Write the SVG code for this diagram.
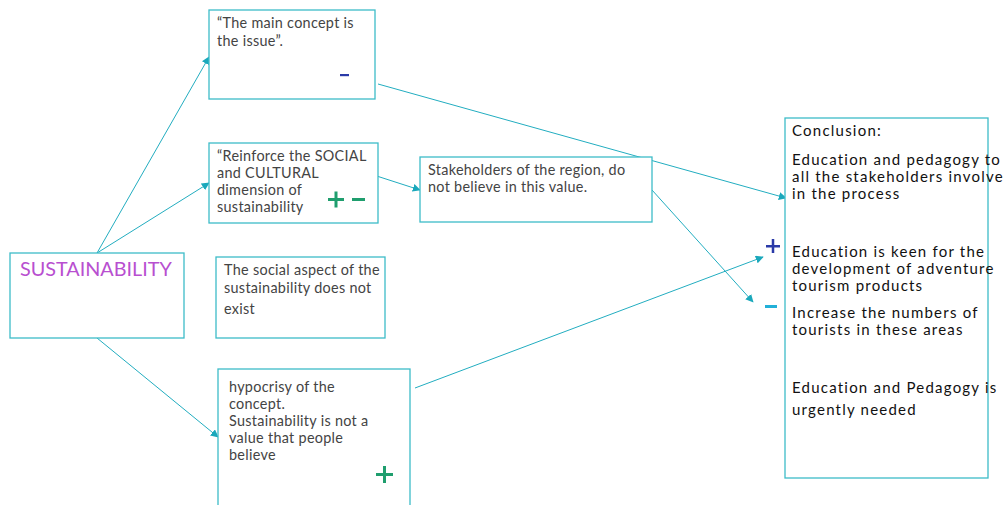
<svg xmlns="http://www.w3.org/2000/svg" width="1007" height="505" viewBox="0 0 1007 505">
  <defs>
    <style>
      .box { fill: #ffffff; stroke: #3dbcc8; stroke-width: 1.3; }
      .link { fill: none; stroke: #22adc0; stroke-width: 1; }
      .note { font-family: Lato, "Noto Sans", sans-serif; font-size: 14.4px; fill: #444444; letter-spacing: 0.3px; }
      .concl { font-family: Lato, "Noto Sans", sans-serif; font-size: 15px; fill: #111111; letter-spacing: 1.22px; }
      .title { font-family: Lato, "Noto Sans", sans-serif; font-size: 19.8px; fill: #b84fd0; }
    </style>
    <marker id="head" viewBox="0 0 10 10" refX="9" refY="5" markerWidth="8" markerHeight="8" orient="auto" markerUnits="userSpaceOnUse">
      <path d="M0,0 L10,5 L0,10 z" fill="#1aa8bb"/>
    </marker>
  </defs>

  <!-- connectors -->
  <g id="connectors">
    <line class="link" x1="97" y1="253" x2="209" y2="57" marker-end="url(#head)"/>
    <line class="link" x1="97" y1="253" x2="209" y2="183" marker-end="url(#head)"/>
    <line class="link" x1="97" y1="338" x2="218" y2="437" marker-end="url(#head)"/>
    <line class="link" x1="378" y1="84" x2="786" y2="198" marker-end="url(#head)"/>
    <line class="link" x1="355" y1="169" x2="420" y2="190" marker-end="url(#head)"/>
    <line class="link" x1="652" y1="190" x2="753" y2="302" marker-end="url(#head)"/>
    <line class="link" x1="415" y1="388" x2="763" y2="257" marker-end="url(#head)"/>
  </g>

  <!-- central concept -->
  <g id="sustainability">
    <rect class="box" x="10" y="253" width="174" height="85"/>
    <text class="title" x="20" y="276">SUSTAINABILITY</text>
  </g>

  <g id="main-concept">
    <rect class="box" x="209" y="10" width="166" height="89"/>
    <text class="note" x="217" y="28">“The main concept is</text>
    <text class="note" x="217" y="46">the issue”.</text>
    <rect x="340" y="74" width="9" height="2.2" fill="#2a3aa8"/>
  </g>

  <g id="reinforce">
    <rect class="box" x="209" y="143" width="169" height="80"/>
    <text class="note" x="217" y="161">“Reinforce the SOCIAL</text>
    <text class="note" x="217" y="178">and CULTURAL</text>
    <text class="note" x="217" y="195">dimension of</text>
    <text class="note" x="217" y="212">sustainability</text>
    <rect x="328" y="198" width="16" height="3" fill="#1f9e6e"/>
    <rect x="334.5" y="191.5" width="3" height="16" fill="#1f9e6e"/>
    <rect x="352" y="198" width="13" height="3" fill="#1f9e6e"/>
  </g>

  <g id="stakeholders">
    <rect class="box" x="420" y="157" width="232" height="65"/>
    <text class="note" x="428" y="175">Stakeholders of the region, do</text>
    <text class="note" x="428" y="192">not believe in this value.</text>
  </g>

  <g id="social-aspect">
    <rect class="box" x="216" y="257" width="169" height="81"/>
    <text class="note" x="224" y="275">The social aspect of the</text>
    <text class="note" x="224" y="293">sustainability does not</text>
    <text class="note" x="224" y="314">exist</text>
  </g>

  <g id="hypocrisy">
    <rect class="box" x="218" y="369" width="192" height="140"/>
    <text class="note" x="229" y="392">hypocrisy of the</text>
    <text class="note" x="229" y="409">concept.</text>
    <text class="note" x="229" y="426">Sustainability is not a</text>
    <text class="note" x="229" y="443">value that people</text>
    <text class="note" x="229" y="460">believe</text>
    <rect x="376" y="473" width="17" height="3" fill="#1f9e6e"/>
    <rect x="383" y="466" width="3" height="17" fill="#1f9e6e"/>
  </g>

  <g id="conclusion">
    <rect class="box" x="785" y="118" width="203" height="360" fill="none"/>
    <text class="concl" x="792" y="136">Conclusion:</text>
    <text class="concl" x="792" y="165">Education and pedagogy to</text>
    <text class="concl" x="792" y="182">all the stakeholders involve</text>
    <text class="concl" x="792" y="199">in the process</text>
    <text class="concl" x="792" y="257">Education is keen for the</text>
    <text class="concl" x="792" y="274">development of adventure</text>
    <text class="concl" x="792" y="291">tourism products</text>
    <text class="concl" x="792" y="318">Increase the numbers of</text>
    <text class="concl" x="792" y="335">tourists in these areas</text>
    <text class="concl" x="792" y="393">Education and Pedagogy is</text>
    <text class="concl" x="792" y="415">urgently needed</text>
    <rect x="766" y="245" width="14" height="2.5" fill="#2a3aa8"/>
    <rect x="771.75" y="239" width="2.5" height="14" fill="#2a3aa8"/>
    <rect x="765" y="305" width="12" height="3" fill="#22b0d8"/>
  </g>
</svg>
